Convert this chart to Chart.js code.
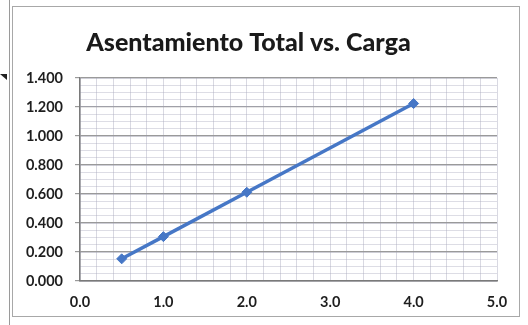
<!DOCTYPE html>
<html>
<head>
<meta charset="utf-8">
<script src="https://cdn.jsdelivr.net/npm/chart.js@4/dist/chart.umd.min.js"></script>
<style>
  html, body { margin: 0; padding: 0; background: #fff; }
  #wrap { position: relative; width: 528px; height: 325px; }
  #frame { position: absolute; left: 12px; top: 6px; width: 508px; height: 311px;
           border: 1px solid #a8a8a8; box-sizing: border-box; pointer-events: none; }
  #edge { position: absolute; left: 9px; top: 0; width: 1px; height: 325px; background: #9a9a9a; }
  #mark { position: absolute; left: 0; top: 74px; width: 0; height: 0;
          border-top: 6px solid #222; border-left: 7px solid transparent; }
  canvas { position: absolute; left: 0; top: 0; }
</style>
</head>
<body>
<div id="wrap">
  <canvas id="c" width="528" height="325"></canvas>
  <div id="edge"></div>
  <div id="mark"></div>
  <div id="frame"></div>
</div>
<script>
// Carga (x) and asentamiento total (y)
const carga = [0.5, 1.0, 2.0, 4.0];
const asentamiento = [0.153, 0.306, 0.612, 1.224];
const titleText = 'Asentamiento Total vs. Carga';
const xTicks = ['0.0', '1.0', '2.0', '3.0', '4.0', '5.0'];

const points = carga.map((x, i) => ({ x: x, y: asentamiento[i] }));

new Chart(document.getElementById('c'), {
  type: 'scatter',
  data: {
    datasets: [{
      data: points,
      showLine: true,
      borderColor: '#4677c6',
      backgroundColor: '#4677c6',
      borderWidth: 3.5,
      pointStyle: 'rectRot',
      pointRadius: 5,
      pointBorderWidth: 1,
      tension: 0
    }]
  },
  options: {
    responsive: false,
    animation: false,
    devicePixelRatio: 1,
    layout: { padding: { left: 0, right: 31, top: 0, bottom: 0 } },
    plugins: {
      legend: { display: false },
      tooltip: { enabled: false },
      title: {
        display: true,
        text: titleText,
        color: '#1a1a1a',
        font: { family: 'Lato', size: 25, weight: '900', lineHeight: 1.2 },
        padding: { top: 28, bottom: 20 }
      }
    },
    scales: {
      x: {
        type: 'linear',
        min: 0, max: 5,
        afterFit: s => { s.height = 44; },
        ticks: {
          stepSize: 1,
          color: '#1e1e1e',
          font: { family: 'Lato', size: 14.5, weight: 'bold' },
          padding: 9,
          callback: (v, i) => xTicks[i]
        },
        grid: { display: false, drawTicks: true, tickLength: 4, color: '#888' },
        border: { display: true, color: '#7a7a7a', width: 1.5 }
      },
      xMinor: {
        type: 'linear', position: 'top',
        min: 0, max: 5,
        afterFit: s => { s.height = 0; },
        ticks: { display: false, stepSize: 0.2 },
        grid: { drawTicks: false, color: 'rgba(170,170,190,0.45)', lineWidth: 1 },
        border: { display: false }
      },
      y: {
        type: 'linear',
        min: 0, max: 1.4,
        afterFit: s => { s.width = 80; },
        ticks: {
          stepSize: 0.2,
          color: '#1e1e1e',
          font: { family: 'Lato', size: 14.5, weight: 'bold' },
          padding: 12,
          callback: v => v.toFixed(3)
        },
        grid: { color: '#9a9a9a', lineWidth: 1.2, tickLength: 5, drawTicks: true },
        border: { display: true, color: '#7a7a7a', width: 1.5 }
      },
      yMinor: {
        type: 'linear', position: 'right',
        min: 0, max: 1.4,
        afterFit: s => { s.width = 0; },
        ticks: { display: false, stepSize: 0.05 },
        grid: { drawTicks: false, color: 'rgba(170,170,190,0.4)', lineWidth: 1 },
        border: { display: false }
      }
    }
  }
});
</script>
</body>
</html>
